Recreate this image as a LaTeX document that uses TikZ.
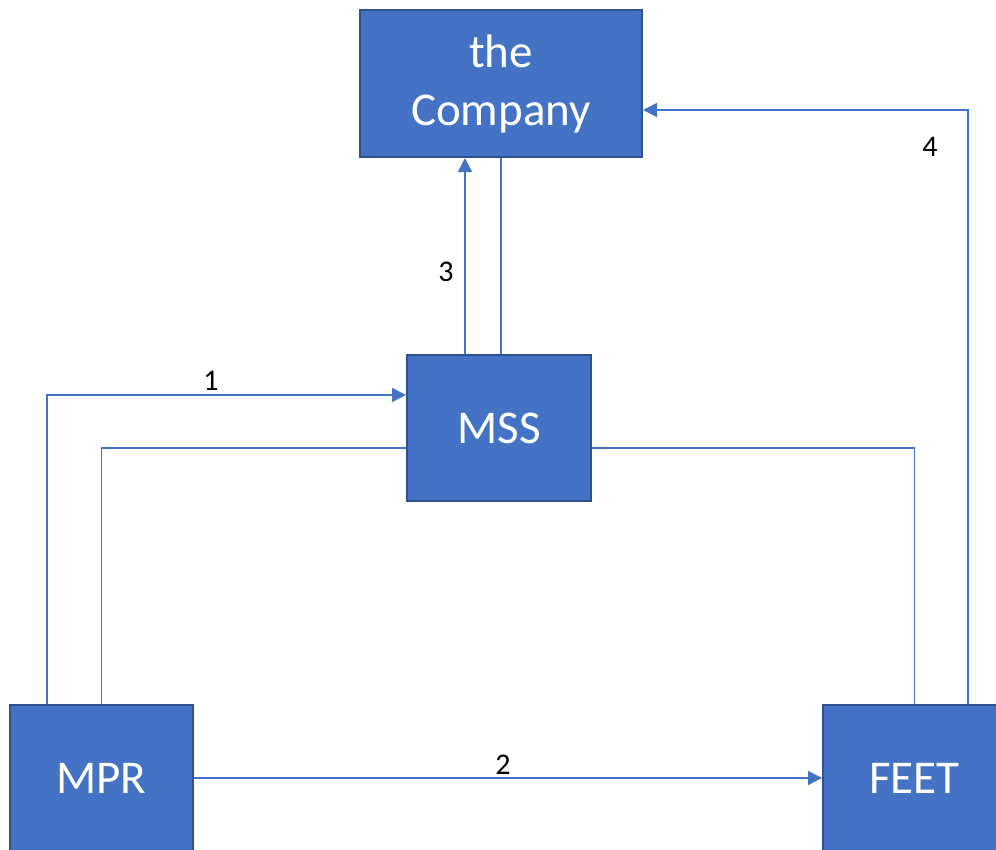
\documentclass[tikz,border=0pt]{standalone}
\usepackage{fontspec}
\setmainfont{Carlito}
\usetikzlibrary{arrows.meta}

\definecolor{boxblue}{HTML}{4472C4}
\definecolor{boxedge}{HTML}{2F528F}

\begin{document}
\begin{tikzpicture}[x=1pt,y=-1pt,>={Triangle[length=14pt,width=14pt]},
    unit/.style={draw=boxedge,line width=2pt,fill=boxblue,text=white,
      font=\fontsize{47}{58}\selectfont,align=center,inner sep=0pt},
    flow/.style={draw=boxblue,line width=1.4pt},
    num/.style={font=\fontsize{30}{34}\selectfont}]
    \useasboundingbox (0,0) rectangle (996,849);

    \node[unit,minimum width=282pt,minimum height=147pt] (comp) at (501,83.5) {the\\Company};
    \node[unit,minimum width=184pt,minimum height=146pt] (mss)  at (499,428)  {MSS};
    \node[unit,minimum width=183pt,minimum height=146pt] (mpr)  at (101.5,778) {MPR};
    \node[unit,minimum width=183pt,minimum height=146pt] (feet) at (914.5,778) {FEET};

    \draw[flow,->] ([xshift=-54.5pt]mpr.north) |- ([yshift=33pt]mss.west);
    \draw[flow] (mpr.north) |- ([yshift=-20pt]mss.west);
    \draw[flow] ([yshift=-20pt]mss.east) -| (feet.north);
    \draw[flow,->] (mpr.east) -- (feet.west);
    \draw[flow,->] ([xshift=-34pt]mss.north) -- ([xshift=-34pt]mss.north |- comp.south);
    \draw[flow] (comp.south) -- (comp.south |- mss.north);
    \draw[flow,->] ([xshift=53.5pt]feet.north) |- ([yshift=-26.5pt]comp.east);

    \node[num] (l1) at (211,381) {1};
    \node[num] (l2) at (503,765) {2};
    \node[num] (l3) at (446,272) {3};
    \node[num] (l4) at (930,147) {4};
\end{tikzpicture}
\end{document}
